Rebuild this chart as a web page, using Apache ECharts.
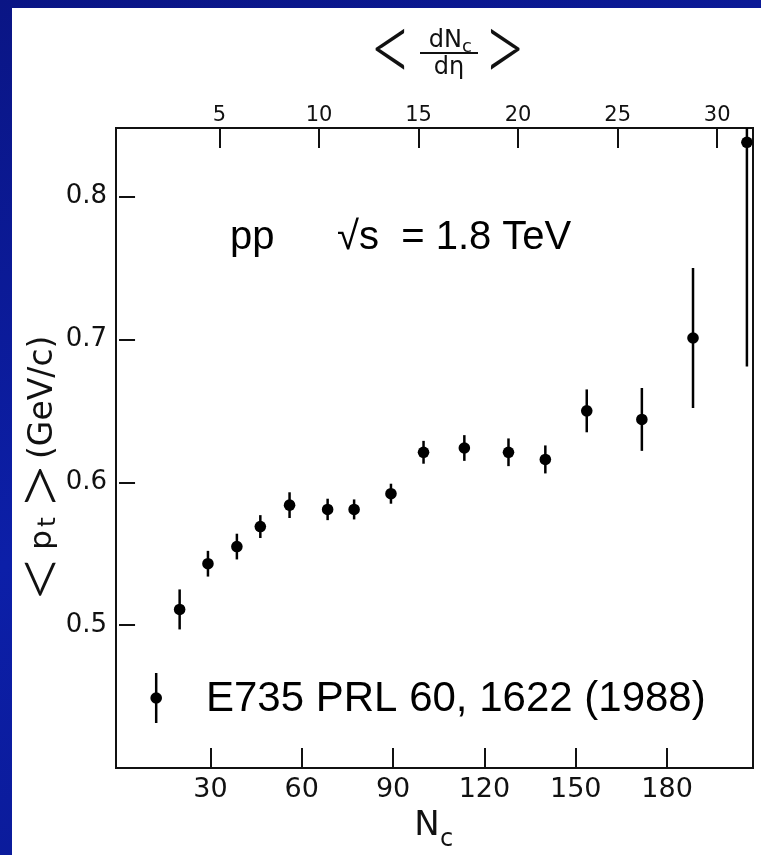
<!DOCTYPE html>
<html>
<head>
<meta charset="utf-8">
<script src="https://cdn.jsdelivr.net/npm/echarts@6/dist/echarts.min.js"></script>
<style>
html,body{margin:0;padding:0;}
#wrap{position:relative;width:761px;height:855px;background:linear-gradient(160deg,#0a1585 0%,#0c1fa8 50%,#0a1890 100%);overflow:hidden;}
#panel{position:absolute;left:12px;top:8px;width:749px;height:847px;background:#fff;}
#chart{position:absolute;left:0;top:0;width:761px;height:855px;}
</style>
</head>
<body>
<div id="wrap"><div id="panel"></div><div id="chart"></div></div>
<script>
// Data
const nc = [12.2, 19.9, 29.2, 38.7, 46.4, 56.0, 68.5, 77.2, 89.3, 100.0, 113.4, 127.9, 140.0, 153.6, 171.7, 188.5, 206.2];
const meanPt = [0.449, 0.511, 0.543, 0.555, 0.569, 0.584, 0.581, 0.581, 0.592, 0.621, 0.624, 0.621, 0.616, 0.650, 0.644, 0.701, 0.838];
const ptErr = [0.0175, 0.014, 0.009, 0.009, 0.008, 0.009, 0.0075, 0.007, 0.007, 0.008, 0.009, 0.0097, 0.0098, 0.015, 0.022, 0.049, 0.157];
const bottomTicks = [30, 60, 90, 120, 150, 180];
const topTicks = [5, 10, 15, 20, 25, 30];
const yTicks = [0.5, 0.6, 0.7, 0.8];

const points = nc.map((x, i) => [x, meanPt[i], ptErr[i]]);
const ink = '#111';
const sciFont = 'DejaVu Sans';

const chart = echarts.init(document.getElementById('chart'), null, {renderer: 'canvas'});

function bracket(ch, x, y, sx, sy) {
  return {type: 'text', x: x, y: y, scaleX: sx, scaleY: sy,
    style: {text: ch, fontFamily: 'Lato', fontWeight: 300, fontSize: 40, fill: ink, align: 'center', verticalAlign: 'middle'}};
}

chart.setOption({
  animation: false,
  backgroundColor: 'transparent',
  grid: {left: 116, right: 8, top: 128, bottom: 87, show: true, borderColor: ink, borderWidth: 2, backgroundColor: 'transparent'},
  xAxis: [
    {type: 'value', position: 'bottom', min: -1, max: 208.2,
     axisLine: {show: false}, splitLine: {show: false},
     axisTick: {show: true, inside: true, length: 20, lineStyle: {color: ink, width: 2}, customValues: bottomTicks},
     axisLabel: {show: true, color: ink, fontFamily: sciFont, fontSize: 27, margin: 8, customValues: bottomTicks}},
    {type: 'value', position: 'top', min: -0.2, max: 31.8,
     axisLine: {show: false}, splitLine: {show: false},
     axisTick: {show: true, inside: true, length: 20, lineStyle: {color: ink, width: 2}, customValues: topTicks},
     axisLabel: {show: true, color: ink, fontFamily: sciFont, fontSize: 21, margin: 2, customValues: topTicks}}
  ],
  yAxis: {type: 'value', min: 0.4, max: 0.848,
    axisLine: {show: false}, splitLine: {show: false},
    axisTick: {show: true, inside: true, length: 16, lineStyle: {color: ink, width: 2}, customValues: yTicks},
    axisLabel: {show: true, color: ink, fontFamily: sciFont, fontSize: 26, margin: 9, customValues: yTicks,
      formatter: v => v.toFixed(1)}},
  series: [{
    type: 'custom',
    xAxisIndex: 0, yAxisIndex: 0,
    clip: true,
    data: points,
    renderItem: function (params, api) {
      const x = api.value(0), y = api.value(1), e = api.value(2);
      const c = api.coord([x, y]);
      const t = api.coord([x, y + e]);
      const b = api.coord([x, y - e]);
      return {type: 'group', children: [
        {type: 'line', shape: {x1: c[0], y1: t[1], x2: c[0], y2: b[1]}, style: {stroke: '#000', lineWidth: 2.5}},
        {type: 'circle', shape: {cx: c[0], cy: c[1], r: 5.8}, style: {fill: '#000'}}
      ]};
    }
  }],
  graphic: [
    // top axis title  < dNc / dη >
    bracket('<', 391, 51, 1.9, 2.5),
    bracket('>', 504, 51, 1.9, 2.5),
    {type: 'text', x: 462, y: 41, style: {text: 'dN', fontFamily: sciFont, fontSize: 24, fill: ink, align: 'right', verticalAlign: 'middle'}},
    {type: 'text', x: 462, y: 47, style: {text: 'c', fontFamily: sciFont, fontSize: 18, fill: ink, align: 'left', verticalAlign: 'middle'}},
    {type: 'line', shape: {x1: 420, y1: 53, x2: 478, y2: 53}, style: {stroke: ink, lineWidth: 2}},
    {type: 'text', x: 449, y: 68, style: {text: 'dη', fontFamily: sciFont, fontSize: 24, fill: ink, align: 'center', verticalAlign: 'middle'}},
    // bottom axis title Nc
    {type: 'text', x: 427, y: 826, style: {text: 'N', fontFamily: sciFont, fontSize: 34, fill: ink, align: 'center', verticalAlign: 'middle'}},
    {type: 'text', x: 440, y: 840, style: {text: 'c', fontFamily: sciFont, fontSize: 24, fill: ink, align: 'left', verticalAlign: 'middle'}},
    // y axis title  <pt> (GeV/c)
    {type: 'group', x: 43, y: 464, rotation: Math.PI / 2, children: [
      bracket('<', -114, -2, 2.2, 1.9),
      {type: 'text', x: -76, y: 0, style: {text: 'p', fontFamily: sciFont, fontSize: 31, fill: ink, align: 'center', verticalAlign: 'middle'}},
      {type: 'text', x: -58, y: 5, style: {text: 't', fontFamily: sciFont, fontSize: 25, fill: ink, align: 'center', verticalAlign: 'middle'}},
      bracket('>', -23, -2, 2.2, 1.9),
      {type: 'text', x: 5, y: 0, style: {text: '(GeV/c)', fontFamily: sciFont, fontSize: 33, fill: ink, align: 'left', verticalAlign: 'middle'}}
    ]},
    // slide annotations
    {type: 'text', x: 230, y: 238, style: {text: 'pp', fontFamily: 'Liberation Sans', fontSize: 40, fill: '#000', align: 'left', verticalAlign: 'middle'}},
    {type: 'text', x: 337, y: 238, style: {text: '√s  = 1.8 TeV', fontFamily: 'Liberation Sans', fontSize: 40, fill: '#000', align: 'left', verticalAlign: 'middle'}},
    {type: 'text', x: 206, y: 699, style: {text: 'E735 PRL 60, 1622 (1988)', fontFamily: 'Liberation Sans', fontSize: 42, fill: '#000', align: 'left', verticalAlign: 'middle'}}
  ]
});
</script>
</body>
</html>
